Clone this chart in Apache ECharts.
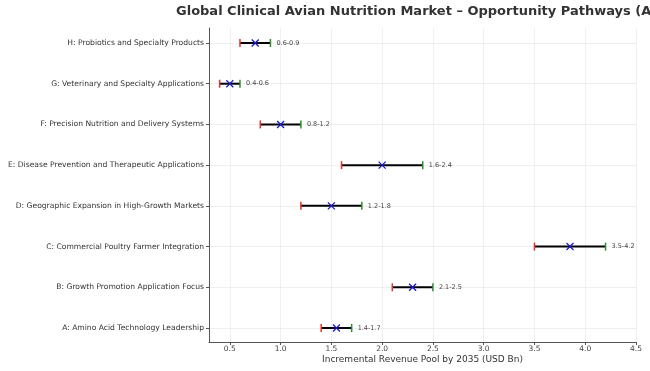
<!DOCTYPE html>
<html><head><meta charset="utf-8">
<script src="https://cdn.jsdelivr.net/npm/echarts@6/dist/echarts.min.js"></script>
<style>html,body{margin:0;padding:0;background:#fff}#c{width:650px;height:371px}</style>
</head><body><div id="c"></div>
<script>
const categories = [
  "A: Amino Acid Technology Leadership",
  "B: Growth Promotion Application Focus",
  "C: Commercial Poultry Farmer Integration",
  "D: Geographic Expansion in High-Growth Markets",
  "E: Disease Prevention and Therapeutic Applications",
  "F: Precision Nutrition and Delivery Systems",
  "G: Veterinary and Specialty Applications",
  "H: Probiotics and Specialty Products"
];
const lows  = [1.4, 2.1, 3.5, 1.2, 1.6, 0.8, 0.4, 0.6];
const mids  = [1.55, 2.3, 3.85, 1.5, 2.0, 1.0, 0.5, 0.75];
const highs = [1.7, 2.5, 4.2, 1.8, 2.4, 1.2, 0.6, 0.9];
const rangeLabels = ["1.4-1.7","2.1-2.5","3.5-4.2","1.2-1.8","1.6-2.4","0.8-1.2","0.4-0.6","0.6-0.9"];
const xTicks = [0.5,1.0,1.5,2.0,2.5,3.0,3.5,4.0,4.5];

const XMIN = 0.295, XMAX = 4.5;
const FONT = "DejaVu Sans";
const data = categories.map((c,i)=>[lows[i], mids[i], highs[i], i, rangeLabels[i]]);

const chart = echarts.init(document.getElementById('c'), null, {renderer:'canvas'});
chart.setOption({
  animation:false,
  title:{
    text:"Global Clinical Avian Nutrition Market \u2013 Opportunity Pathways (A\u2013H)",
    left:171, top:0,
    textStyle:{fontFamily:FONT, fontWeight:'bold', fontSize:13, color:'#333'}
  },
  grid:[
    {left:209, right:14, top:28, bottom:29},
    {left:209, right:14, top:43, bottom:43}
  ],
  xAxis:[
    {gridIndex:0, type:'value', min:XMIN, max:XMAX,
     name:"Incremental Revenue Pool by 2035 (USD Bn)", nameLocation:'middle', nameGap:13,
     nameMoveOverlap:false,
     nameTextStyle:{fontFamily:FONT, fontSize:9, color:'#333'},
     axisLine:{show:true, lineStyle:{color:'#555', width:1}},
     axisTick:{show:true, length:3, lineStyle:{color:'#555'}, customValues:xTicks},
     axisLabel:{fontFamily:FONT, fontSize:7.5, color:'#444', margin:3, customValues:xTicks,
       formatter:v=>v.toFixed(1)},
     splitLine:{show:true, lineStyle:{color:'#ebebeb', width:0.8}, customValues:xTicks}
    },
    {gridIndex:1, type:'value', min:XMIN, max:XMAX, show:false}
  ],
  yAxis:[
    {gridIndex:0, type:'value', min:0, max:1, axisLine:{show:true, lineStyle:{color:'#555', width:1}},
     axisTick:{show:false}, axisLabel:{show:false}, splitLine:{show:false}},
    {gridIndex:1, type:'category', data:categories, boundaryGap:false,
     axisLine:{show:false},
     axisTick:{show:true, length:3, inside:false, lineStyle:{color:'#555'}},
     axisLabel:{fontFamily:FONT, fontSize:7.6, color:'#333', margin:5},
     splitLine:{show:true, lineStyle:{color:'#ebebeb', width:0.8}}
    }
  ],
  series:[{
    type:'custom', xAxisIndex:1, yAxisIndex:1,
    data:data,
    encode:{x:[0,1,2], y:3},
    renderItem:function(params, api){
      const y = api.value(3);
      const pL = api.coord([api.value(0), y]);
      const pM = api.coord([api.value(1), y]);
      const pH = api.coord([api.value(2), y]);
      const h = 4, m = 3.5;
      return {type:'group', children:[
        {type:'line', shape:{x1:pL[0], y1:pL[1], x2:pH[0], y2:pH[1]}, style:{stroke:'#000', lineWidth:2}},
        {type:'line', shape:{x1:pL[0], y1:pL[1]-h, x2:pL[0], y2:pL[1]+h}, style:{stroke:'#e8312a', lineWidth:1.5}},
        {type:'line', shape:{x1:pH[0], y1:pH[1]-h, x2:pH[0], y2:pH[1]+h}, style:{stroke:'#2e8b2e', lineWidth:1.5}},
        {type:'line', shape:{x1:pM[0]-m, y1:pM[1]-m, x2:pM[0]+m, y2:pM[1]+m}, style:{stroke:'#1a1acc', lineWidth:1.3}},
        {type:'line', shape:{x1:pM[0]-m, y1:pM[1]+m, x2:pM[0]+m, y2:pM[1]-m}, style:{stroke:'#1a1acc', lineWidth:1.3}},
        {type:'text', x:pH[0]+6, y:pH[1], style:{text:api.value(4), fontFamily:FONT, fontSize:6.5, fill:'#444', verticalAlign:'middle', align:'left'}}
      ]};
    }
  }]
});
</script></body></html>
